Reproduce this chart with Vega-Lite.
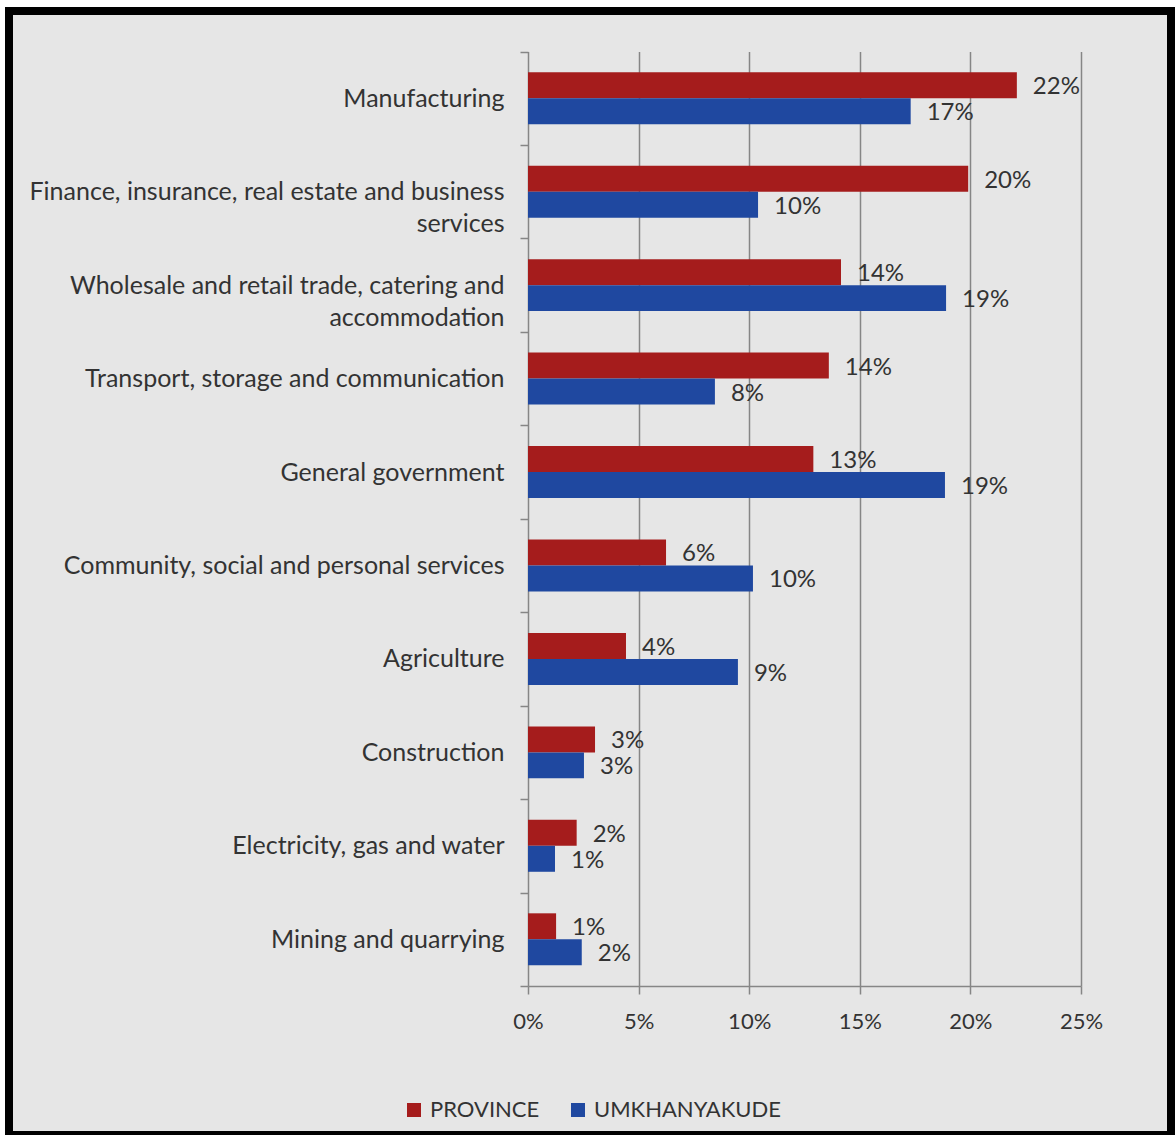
{
  "$schema": "https://vega.github.io/schema/vega-lite/v6.json",
  "width": 1162,
  "height": 1124,
  "autosize": {"type": "none"},
  "padding": {"left": 9, "top": 11, "right": 5, "bottom": 0},
  "background": "white",
  "config": {
    "view": {"fill": "#e6e6e6", "stroke": "black", "strokeWidth": 8},
    "font": "Lato"
  },
  "data": {
    "values": [
      {"sector": "Manufacturing", "series": "PROVINCE", "share": 0.221},
      {"sector": "Manufacturing", "series": "UMKHANYAKUDE", "share": 0.173},
      {"sector": "Finance, insurance, real estate and business services", "series": "PROVINCE", "share": 0.199},
      {"sector": "Finance, insurance, real estate and business services", "series": "UMKHANYAKUDE", "share": 0.104},
      {"sector": "Wholesale and retail trade, catering and accommodation", "series": "PROVINCE", "share": 0.1415},
      {"sector": "Wholesale and retail trade, catering and accommodation", "series": "UMKHANYAKUDE", "share": 0.189},
      {"sector": "Transport, storage and communication", "series": "PROVINCE", "share": 0.136},
      {"sector": "Transport, storage and communication", "series": "UMKHANYAKUDE", "share": 0.0845},
      {"sector": "General government", "series": "PROVINCE", "share": 0.129},
      {"sector": "General government", "series": "UMKHANYAKUDE", "share": 0.1885},
      {"sector": "Community, social and personal services", "series": "PROVINCE", "share": 0.0624},
      {"sector": "Community, social and personal services", "series": "UMKHANYAKUDE", "share": 0.1017},
      {"sector": "Agriculture", "series": "PROVINCE", "share": 0.0443},
      {"sector": "Agriculture", "series": "UMKHANYAKUDE", "share": 0.0949},
      {"sector": "Construction", "series": "PROVINCE", "share": 0.0303},
      {"sector": "Construction", "series": "UMKHANYAKUDE", "share": 0.0253},
      {"sector": "Electricity, gas and water", "series": "PROVINCE", "share": 0.022},
      {"sector": "Electricity, gas and water", "series": "UMKHANYAKUDE", "share": 0.0122},
      {"sector": "Mining and quarrying", "series": "PROVINCE", "share": 0.0127},
      {"sector": "Mining and quarrying", "series": "UMKHANYAKUDE", "share": 0.0243}
    ]
  },
  "encoding": {
    "y": {
      "field": "sector",
      "type": "nominal",
      "sort": null,
      "scale": {"range": [40.5, 975], "paddingInner": 0, "paddingOuter": 0},
      "axis": {
        "title": null,
        "orient": "left",
        "offset": -519,
        "tickBand": "extent",
        "tickSize": 8,
        "tickWidth": 1.5,
        "tickColor": "#868686",
        "domainColor": "#868686",
        "domainWidth": 1.5,
        "labelPadding": 16,
        "labelFontSize": 25,
        "labelColor": "#333333",
        "labelLimit": 700,
        "labelLineHeight": 32,
        "labelExpr": "datum.value == 'Finance, insurance, real estate and business services' ? [pad('Finance, insurance, real estate and business', 46, '\u00a0'), pad('services', 48, '\u00a0')] : datum.value == 'Wholesale and retail trade, catering and accommodation' ? ['Wholesale and retail trade, catering and', pad('accommodation', 39, '\u00a0')] : datum.value",
        "grid": false
      }
    },
    "yOffset": {
      "field": "series",
      "type": "nominal",
      "sort": ["PROVINCE", "UMKHANYAKUDE"],
      "scale": {"paddingInner": 0, "paddingOuter": 0.8}
    }
  },
  "layer": [
    {
      "mark": {"type": "bar"},
      "encoding": {
        "x": {
          "field": "share",
          "type": "quantitative",
          "scale": {"domain": [0, 0.25], "range": [519, 1072]},
          "axis": {
            "title": null,
            "orient": "top",
            "values": [0.05, 0.1, 0.15, 0.2, 0.25],
            "grid": true,
            "gridColor": "#868686",
            "gridWidth": 1.5,
            "domain": false,
            "ticks": false,
            "labels": false
          }
        },
        "color": {
          "field": "series",
          "type": "nominal",
          "scale": {"domain": ["PROVINCE", "UMKHANYAKUDE"], "range": ["#a51c1c", "#1f48a0"]},
          "legend": {
            "title": null,
            "orient": "none",
            "legendX": 394,
            "legendY": 1088,
            "direction": "horizontal",
            "symbolType": "square",
            "symbolSize": 196,
            "symbolStrokeWidth": 0,
            "labelFontSize": 22,
            "labelColor": "#333333",
            "labelOffset": 5,
            "labelLimit": 400,
            "columnPadding": 27
          }
        }
      }
    },
    {
      "mark": {"type": "text", "align": "left", "baseline": "middle", "dx": 16, "dy": 2, "fontSize": 24, "color": "#333333"},
      "encoding": {
        "x": {
          "field": "share",
          "type": "quantitative",
          "scale": {"domain": [0, 0.25], "range": [519, 1072]},
          "axis": {
            "title": null,
            "orient": "bottom",
            "offset": -149,
            "values": [0, 0.05, 0.1, 0.15, 0.2, 0.25],
            "format": ".0%",
            "labelFlush": false,
            "grid": false,
            "tickSize": 8,
            "tickWidth": 1.5,
            "tickColor": "#868686",
            "domainColor": "#868686",
            "domainWidth": 1.5,
            "labelFontSize": 22,
            "labelColor": "#333333",
            "labelPadding": 17
          }
        },
        "text": {"field": "share", "type": "quantitative", "format": ".0%"}
      }
    }
  ],
  "resolve": {"axis": {"x": "independent"}}
}
